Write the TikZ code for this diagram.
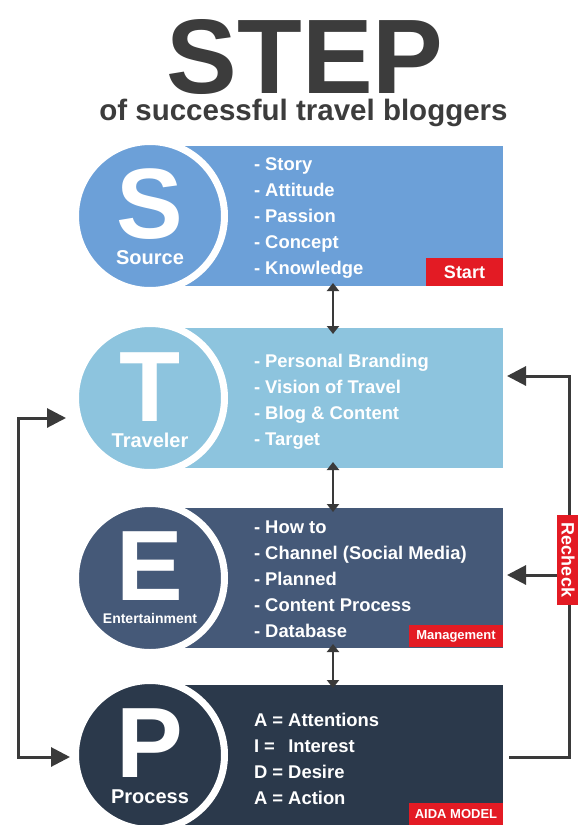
\documentclass[tikz,border=0pt]{standalone}
\usepackage{fontspec}
\setmainfont{Liberation Sans}
\usetikzlibrary{arrows.meta}
\definecolor{cS}{HTML}{6CA0D8}
\definecolor{cT}{HTML}{8DC4DE}
\definecolor{cE}{HTML}{455978}
\definecolor{cP}{HTML}{2B394B}
\definecolor{cRed}{HTML}{E31B24}
\definecolor{cTitle}{HTML}{3C3C3C}
\definecolor{cArrow}{HTML}{3A3A3A}
\begin{document}
\begin{tikzpicture}[x=1pt,y=-1pt,
  every node/.style={inner sep=0pt, outer sep=0pt},
  panel/.style={rectangle, minimum width=353pt, minimum height=140pt, anchor=west},
  disc/.style={circle, minimum size=149pt, draw=white, line width=7pt},
  bigletter/.style={anchor=base, text=white, text depth=0pt, font=\bfseries\fontsize{100}{100}\selectfont},
  circlabel/.style={anchor=base, text=white, text height=14pt, font=\bfseries\fontsize{20}{20}\selectfont},
  item/.style={anchor=base west, text=white, font=\bfseries\fontsize{18.4}{18}\selectfont},
  tag/.style={fill=cRed, text=white, anchor=south east, font=\bfseries\fontsize{13}{13}\selectfont, minimum width=94pt, minimum height=22pt},
  dbl/.style={line width=2.5pt, draw=cArrow, {Triangle[length=8pt,width=12pt]}-{Triangle[length=8pt,width=12pt]}},
  fb/.style={line width=3pt, draw=cArrow, -{Triangle[length=19pt,width=19pt]}},
  fbboth/.style={line width=3pt, draw=cArrow, {Triangle[length=19pt,width=19pt]}-{Triangle[length=19pt,width=19pt]}}
]
\useasboundingbox (0,0) rectangle (578,825);
\fill[white] (0,0) rectangle (578,825);

% title
\node[anchor=base, text=cTitle, font=\bfseries\fontsize{106}{106}\selectfont] (title) at (305,93) {STEP};
\node[anchor=base, text=cTitle, font=\bfseries\fontsize{29.5}{30}\selectfont] (subtitle) at (303.5,120) {of successful travel bloggers};

% panels
\node[panel, fill=cS] (Srect) at (150,216) {};
\node[panel, fill=cT] (Trect) at (150,398) {};
\node[panel, fill=cE] (Erect) at (150,578) {};
\node[panel, fill=cP] (Prect) at (150,755) {};

% circles
\node[disc, fill=cS] (Scirc) at (150,216) {};
\node[disc, fill=cT] (Tcirc) at (150,398) {};
\node[disc, fill=cE] (Ecirc) at (150,578) {};
\node[disc, fill=cP] (Pcirc) at (150,755) {};

\node[bigletter] (Sl) at (150,238) {S};
\node[bigletter] (Tl) at (150,421) {T};
\node[bigletter] (El) at (150,600) {E};
\node[bigletter] (Pl) at (150,777) {P};

\node[circlabel] (Slab) at (150,264) {Source};
\node[circlabel] (Tlab) at (150,447) {Traveler};
\node[anchor=base, text=white, text height=10pt, font=\bfseries\fontsize{14}{14}\selectfont] (Elab) at (150,623) {Entertainment};
\node[circlabel] (Plab) at (150,803) {Process};

% items
\foreach \t [count=\i] in {{Story},{Attitude},{Passion},{Concept},{Knowledge}}
  \node[item] (s\i) at (254,{170+26*(\i-1)}) {- \t};
\foreach \t [count=\i] in {{Personal Branding},{Vision of Travel},{Blog \& Content},{Target}}
  \node[item] (t\i) at (254,{367+26*(\i-1)}) {- \t};
\foreach \t [count=\i] in {{How to},{Channel (Social Media)},{Planned},{Content Process},{Database}}
  \node[item] (e\i) at (254,{533+26*(\i-1)}) {- \t};
\node[item] (p1) at (254,726) {A = Attentions};
\node[item] (p2) at (254,752) {\rlap{I =}\phantom{A = }Interest};
\node[item] (p3) at (254,778) {\rlap{D =}\phantom{A = }Desire};
\node[item] (p4) at (254,804) {A = Action};

% tags
\node[tag, minimum width=77pt, minimum height=28pt, font=\bfseries\fontsize{18}{18}\selectfont] (start) at (Srect.south east) {Start};
\node[tag] (mgmt) at ([yshift=1pt]Erect.south east) {Management};
\node[tag] (aida) at (Prect.south east) {AIDA MODEL};

% double arrows between panels
\coordinate (ax) at (333,0);
\draw[dbl] ([yshift=3pt]Srect.south -| ax) -- ([yshift=-6pt]Trect.north -| ax);
\draw[dbl] ([yshift=6pt]Trect.south -| ax) -- ([yshift=-4pt]Erect.north -| ax);
\draw[dbl] ([yshift=4pt]Erect.south -| ax) -- ([yshift=-3pt]Prect.north -| ax);

% left feedback loop
\coordinate (lx) at (18,0);
\coordinate (ltip) at (66,418);
\coordinate (lbot) at (70,757);
\draw[fbboth] (ltip) -- (ltip -| lx) -- (lbot -| lx) -- (lbot);

% right recheck loop
\coordinate (rx) at (569,0);
\coordinate (rtop) at (507,376);
\coordinate (rmid) at (507,575);
\coordinate (rbot) at (509,757);
\draw[fb] (rbot) -- (rbot -| rx) -- (rtop -| rx) -- (rtop);
\draw[fb] (rmid -| rx) -- (rmid);
\node[fill=cRed, text=white, rotate=-90, minimum width=90pt, minimum height=22pt, font=\bfseries\fontsize{18}{18}\selectfont] (recheck) at (568,560) {Recheck};
\end{tikzpicture}
\end{document}
